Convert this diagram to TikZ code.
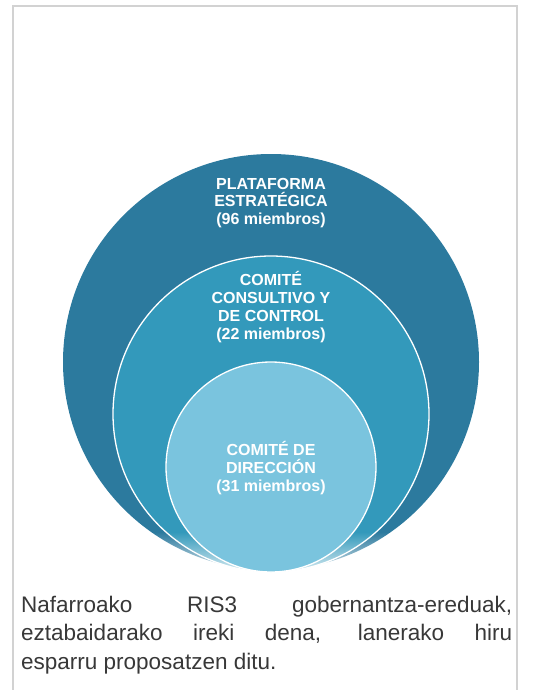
\documentclass[tikz,border=0pt]{standalone}
\usepackage{fontspec}
\setmainfont{Liberation Sans}
\usetikzlibrary{fadings}

\definecolor{framegray}{HTML}{D2D2D2}
\definecolor{platblue}{HTML}{2C7A9E}
\definecolor{comiteblue}{HTML}{3399BB}
\definecolor{direcblue}{HTML}{7AC4DE}
\definecolor{captiongray}{HTML}{383838}

\tikzset{
  ring/.style={circle, inner sep=0pt, draw=white, line width=1.3pt},
  ringtext/.style={text=white, align=center, inner sep=0pt,
    font=\fontsize{16}{17.8}\selectfont\bfseries},
}

\begin{document}
\begin{tikzpicture}[x=1pt, y=-1pt]
\useasboundingbox (0,0) rectangle (539,690);
\draw[framegray, line width=2.5pt] (13,690) -- (13,6) -- (517,6) -- (517,690);

% three nested circles, touching at the bottom
\node[ring, draw=none, fill=platblue, minimum size=416pt] (plat) at (271,362) {};
\node[ring, fill=comiteblue, minimum size=316pt] (comite) at (271,414) {};
\fill[white, path fading=north] (60,532) rectangle (482,582);
\node[ring, fill=direcblue, minimum size=210pt] (direc) at (271,467) {};

\node[ringtext] (platlabel) at (271,203) {PLATAFORMA\\ESTRATÉGICA\\(96 miembros)};
\node[ringtext] (comitelabel) at (271,307) {COMITÉ\\CONSULTIVO Y\\DE CONTROL\\(22 miembros)};
\node[ringtext] (direclabel) at (271,468) {COMITÉ DE\\DIRECCIÓN\\(31 miembros)};

\node[anchor=base west, inner sep=0pt, align=left, text=captiongray,
  font=\fontsize{22.5}{28.5}\selectfont] (caption) at (21,669)
  {\makebox[491pt][s]{Nafarroako RIS3 gobernantza-ereduak,}\\
   \makebox[491pt][s]{eztabaidarako ireki dena, lanerako hiru}\\
   esparru proposatzen ditu.};
\end{tikzpicture}
\end{document}
